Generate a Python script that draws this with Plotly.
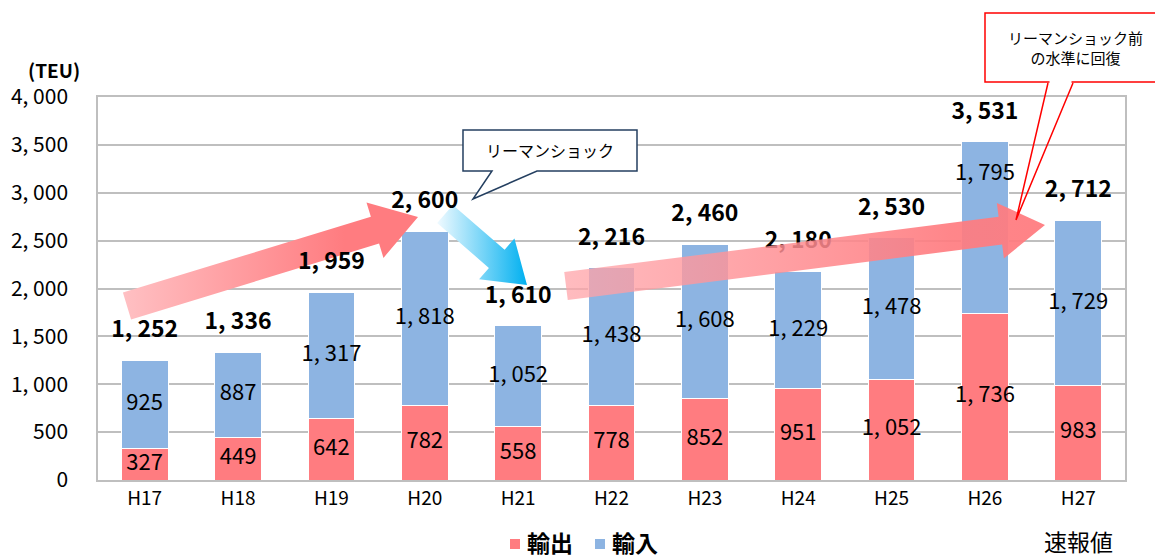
import math
import plotly.graph_objects as go

categories = ["H17", "H18", "H19", "H20", "H21", "H22", "H23", "H24", "H25", "H26", "H27"]
exports = [327, 449, 642, 782, 558, 778, 852, 951, 1052, 1736, 983]
imports = [925, 887, 1317, 1818, 1052, 1438, 1608, 1229, 1478, 1795, 1729]
totals = [1252, 1336, 1959, 2600, 1610, 2216, 2460, 2180, 2530, 3531, 2712]
y_tick_vals = [0, 500, 1000, 1500, 2000, 2500, 3000, 3500, 4000]
y_tick_text = ["0", "500", "1, 000", "1, 500", "2, 000", "2, 500", "3, 000", "3, 500", "4, 000"]
series_names = ["輸出", "輸入"]

FONT = "Noto Sans CJK JP"
C_EXP = "#FF7C80"
C_IMP = "#8DB4E2"
OFF = 8  # page body margin
W, H = 1163 - OFF, 558 - OFF
L, R, T, B = 98, 1125, 97, 480   # plot area in screen pixels
YMAX = 4000
NCAT = len(categories)
# import-label nudges (in pixels, negative = up) where the label was moved clear of the arrow
import_label_nudge = {9: -53}


def fmt(v):
    return f"{v:,}".replace(",", ", ")


def to_data(px, py):
    x = (px - L) / (R - L) * NCAT - 0.5
    y = (B - py) / (B - T) * YMAX
    return x, y


def to_paper(px, py):
    return (px - L) / (R - L), (B - py) / (B - T)


PX2Y = YMAX / (B - T)


def arrow_poly(tail, tip, shaft_hw, head_hw, head_len):
    dx, dy = tip[0] - tail[0], tip[1] - tail[1]
    ln = math.hypot(dx, dy)
    ux, uy = dx / ln, dy / ln
    nx, ny = -uy, ux

    def p(u, v):
        return (tail[0] + ux * u + nx * v, tail[1] + uy * u + ny * v)

    ub = ln - head_len
    pts = [p(0, shaft_hw), p(ub, shaft_hw), p(ub, head_hw), p(ln, 0),
           p(ub, -head_hw), p(ub, -shaft_hw), p(0, -shaft_hw), p(0, shaft_hw)]
    xs, ys = zip(*[to_data(*q) for q in pts])
    return list(xs), list(ys)


def arrow_trace(tail, tip, shaft_hw, head_hw, head_len, colorscale):
    xs, ys = arrow_poly(tail, tip, shaft_hw, head_hw, head_len)
    return go.Scatter(x=xs, y=ys, mode="lines", fill="toself",
                      line=dict(width=0, color="rgba(0,0,0,0)"),
                      fillgradient=dict(type="horizontal", colorscale=colorscale),
                      showlegend=False, hoverinfo="skip")


xidx = list(range(NCAT))
fig = go.Figure()
fig.add_trace(go.Bar(x=xidx, y=exports, name=series_names[0],
                     marker=dict(color=C_EXP, line=dict(color="white", width=1)), hoverinfo="skip"))
fig.add_trace(go.Bar(x=xidx, y=imports, name=series_names[1],
                     marker=dict(color=C_IMP, line=dict(color="white", width=1)), hoverinfo="skip"))

# rising arrow (before Lehman) and falling arrow: beneath the labels
fig.add_trace(arrow_trace((127, 306), (418, 217), 14, 29, 45,
                          [[0, "rgb(255,192,195)"], [0.75, "rgb(255,124,128)"], [1, "rgb(255,124,128)"]]))
fig.add_trace(arrow_trace((445, 214), (527, 285), 12, 27, 40,
                          [[0, "rgb(240,250,255)"], [1, "rgb(0,176,240)"]]))

# segment labels
lbl_x, lbl_y, lbl_t = [], [], []
for i in range(NCAT):
    lbl_x += [i, i]
    lbl_y += [exports[i] / 2,
              exports[i] + imports[i] / 2 - import_label_nudge.get(i, 0) * PX2Y]
    lbl_t += [fmt(exports[i]), fmt(imports[i])]
fig.add_trace(go.Scatter(x=lbl_x, y=lbl_y, text=lbl_t, mode="text", textposition="middle center",
                         textfont=dict(family=FONT, size=22, color="black"),
                         showlegend=False, hoverinfo="skip"))

# totals
pad = 29 * PX2Y
fig.add_trace(go.Scatter(x=xidx, y=[t + pad for t in totals], text=[f"<b>{fmt(t)}</b>" for t in totals],
                         mode="text", textposition="middle center",
                         textfont=dict(family=FONT, size=23, color="black"),
                         showlegend=False, hoverinfo="skip"))

# recovery arrow: translucent, above the labels
fig.add_trace(arrow_trace((566, 286), (1045, 225), 14, 28, 45,
                          [[0, "rgba(255,165,170,0.75)"], [0.8, "rgba(255,124,128,0.92)"],
                           [1, "rgba(255,124,128,0.95)"]]))

shapes = []


def path(points, close=True):
    s = ""
    for k, (a, b) in enumerate(points):
        xp, yp = to_paper(a, b)
        s += ("M" if k == 0 else "L") + f"{xp:.5f},{yp:.5f} "
    return s + ("Z" if close else "")


def rect(x0, y0, x1, y1, color):
    p0, p1 = to_paper(x0, y0), to_paper(x1, y1)
    shapes.append(dict(type="rect", xref="paper", yref="paper", layer="above",
                       x0=p0[0], y0=p0[1], x1=p1[0], y1=p1[1], fillcolor=color, line=dict(width=0)))


# callout 1
shapes.append(dict(type="path", xref="paper", yref="paper", layer="above",
                   path=path([(463, 130), (637, 130), (637, 171), (537, 171), (473, 199), (492, 171), (463, 171)]),
                   fillcolor="white", line=dict(color="#243F60", width=1.5)))
# callout 2
shapes.append(dict(type="path", xref="paper", yref="paper", layer="above",
                   path=path([(985, 13), (1159, 13), (1159, 82), (985, 82)]),
                   fillcolor="white", line=dict(color="#FF0000", width=1.5)))
shapes.append(dict(type="path", xref="paper", yref="paper", layer="above",
                   path=path([(1048, 83), (1016, 220), (1073, 83)], close=False),
                   line=dict(color="#FF0000", width=1.5)))
shapes.append(dict(type="line", xref="paper", yref="paper", layer="above",
                   x0=to_paper(1049.5, 82)[0], x1=to_paper(1071.5, 82)[0],
                   y0=to_paper(0, 82)[1], y1=to_paper(0, 82)[1],
                   line=dict(color="white", width=2)))

annotations = []


def note(px_, py_, text, size, xref="paper", xval=None, xanchor="center"):
    xp, yp = to_paper(px_, py_)
    annotations.append(dict(x=xp if xval is None else xval, y=yp, xref=xref, yref="paper", text=text,
                            showarrow=False, xanchor=xanchor, yanchor="middle", borderpad=0,
                            font=dict(family=FONT, size=size, color="black")))


note(550, 150, "リーマンショック", 16)
note(1075, 48, "リーマンショック前<br>の水準に回復", 15)
note(54, 70, "<b>(TEU)</b>", 19)
note(0, 541, "速報値", 23, xref="x", xval=NCAT - 1)

# legend (drawn manually to match the compact swatch spacing)
rect(510, 539, 520, 549, C_EXP)
note(526, 542, f"<b>{series_names[0]}</b>", 23, xanchor="left")
rect(595, 539, 605, 549, C_IMP)
note(611, 542, f"<b>{series_names[1]}</b>", 23, xanchor="left")

fig.update_layout(
    width=W, height=H,
    margin=dict(l=L - OFF, r=W - (R - OFF), t=T - OFF, b=H - (B - OFF), pad=0, autoexpand=False),
    barmode="stack", bargap=0.5, showlegend=False,
    plot_bgcolor="white", paper_bgcolor="white",
    font=dict(family=FONT, color="black"),
    shapes=shapes, annotations=annotations,
    xaxis=dict(range=[-0.5, NCAT - 0.5], tickvals=xidx, ticktext=categories, showgrid=False,
               showline=True, mirror=True, linecolor="#BFBFBF", linewidth=1.5, zeroline=False,
               tickfont=dict(family=FONT, size=19, color="black"), ticks="", fixedrange=True),
    yaxis=dict(range=[0, YMAX], tickvals=y_tick_vals, ticktext=y_tick_text, showgrid=True,
               gridcolor="#BFBFBF", gridwidth=1.5, showline=True, mirror=True, linecolor="#BFBFBF",
               linewidth=1.5, zeroline=False, ticks="", ticklabelstandoff=24,
               tickfont=dict(family=FONT, size=21, color="black"), fixedrange=True),
)

fig.write_html("out.html")
